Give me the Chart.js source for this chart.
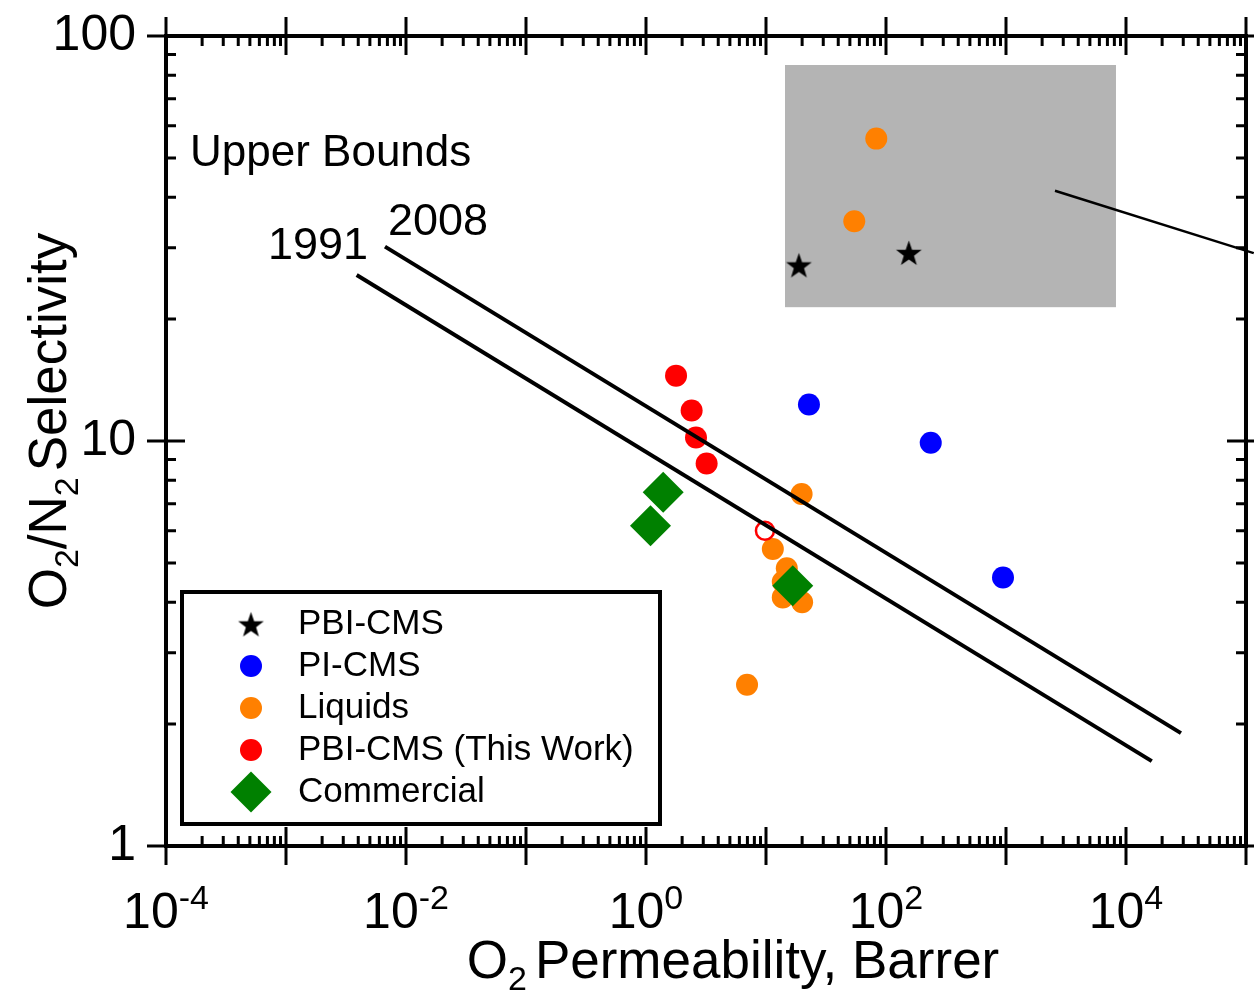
<!DOCTYPE html>
<html>
<head>
<meta charset="utf-8">
<script src="https://cdn.jsdelivr.net/npm/chart.js@4.4.1/dist/chart.umd.min.js"></script>
<style>
  html, body { margin: 0; padding: 0; background: #fff; }
  canvas { display: block; }
</style>
</head>
<body>
<canvas id="chart" width="1254" height="993" style="width:1254px;height:993px"></canvas>
<script>
/* ---- DATA ---- */
const pbiCmsX = [18.8, 155];
const pbiCmsY = [27.2, 29.2];

const piCmsX = [22.8, 236, 944];
const piCmsY = [12.3, 9.9, 4.6];

const liquidsX = [83, 54.4, 19.8, 11.4, 14.9, 13.8, 13.8, 20.0, 6.95];
const liquidsY = [55.8, 34.9, 7.4, 5.41, 4.85, 4.49, 4.11, 4.0, 2.5];

const thisWorkX = [1.78, 2.40, 2.61, 3.20];
const thisWorkY = [14.5, 11.9, 10.2, 8.8];

const thisWorkOpenX = [9.8];
const thisWorkOpenY = [6.0];

const commercialX = [1.39, 1.09, 16.7];
const commercialY = [7.47, 6.18, 4.39];

const bound1991X = [0.00388, 16400];
const bound1991Y = [25.7, 1.62];
const bound2008X = [0.00668, 28700];
const bound2008Y = [30.2, 1.90];

const calloutX = [2560, 116000];
const calloutY = [41.5, 29.1];

const regionX = [14.4, 8250];
const regionY = [21.4, 84.8];

const xTickExponents = [-4, -2, 0, 2, 4];
const yTickValues = [1, 10, 100];
const yTickLabels = ['1', '10', '100'];

/* ---- HELPERS ---- */
const FONT = '"Liberation Sans", Arial, Helvetica, sans-serif';
const f = size => `${size}px ${FONT}`;

function toPoints(xs, ys) {
    return xs.map((x, i) => ({ x: x, y: ys[i] }));
}

function makeStar(outer, inner, color) {
    const size = Math.ceil(outer * 2 + 4);
    const c = document.createElement('canvas');
    c.width = c.height = size;
    const g = c.getContext('2d');
    g.fillStyle = color;
    g.beginPath();
    for (let i = 0; i < 10; i++) {
        const r = i % 2 ? inner : outer;
        const a = -Math.PI / 2 + i * Math.PI / 5;
        const px = size / 2 + r * Math.cos(a);
        const py = size / 2 + 1.5 + r * Math.sin(a);
        if (i) g.lineTo(px, py); else g.moveTo(px, py);
    }
    g.closePath();
    g.fill();
    return c;
}

const starImg = makeStar(13.5, 5.4, '#000000');

// text made of runs (for sub/superscripts)
function drawRich(ctx, parts, x, y, align) {
    let total = 0;
    parts.forEach(p => {
        ctx.font = p.font;
        p.w = ctx.measureText(p.text).width;
        total += p.w + (p.gap || 0);
    });
    let cx = align === 'center' ? x - total / 2 : align === 'right' ? x - total : x;
    ctx.textAlign = 'left';
    parts.forEach(p => {
        ctx.font = p.font;
        ctx.fillText(p.text, cx, y + (p.dy || 0));
        cx += p.w + (p.gap || 0);
    });
}

/* ---- DATASETS ---- */
const datasets = [
    {
        label: '1991', data: toPoints(bound1991X, bound1991Y), showLine: true,
        borderColor: '#000', borderWidth: 4, pointRadius: 0, order: 0, legend: false
    },
    {
        label: '2008', data: toPoints(bound2008X, bound2008Y), showLine: true,
        borderColor: '#000', borderWidth: 4, pointRadius: 0, order: 0, legend: false
    },
    {
        label: 'callout', data: toPoints(calloutX, calloutY), showLine: true, clip: false,
        borderColor: '#000', borderWidth: 2.5, pointRadius: 0, order: 0, legend: false
    },
    {
        label: 'PBI-CMS', data: toPoints(pbiCmsX, pbiCmsY),
        pointStyle: starImg, pointRadius: 13, backgroundColor: '#000', order: 3
    },
    {
        label: 'PI-CMS', data: toPoints(piCmsX, piCmsY),
        pointStyle: 'circle', pointRadius: 11, borderWidth: 0, backgroundColor: '#0000FF', order: 3
    },
    {
        label: 'Liquids', data: toPoints(liquidsX, liquidsY),
        pointStyle: 'circle', pointRadius: 11, borderWidth: 0, backgroundColor: '#FF8000', order: 3
    },
    {
        label: 'PBI-CMS (This Work)', data: toPoints(thisWorkX, thisWorkY),
        pointStyle: 'circle', pointRadius: 11, borderWidth: 0, backgroundColor: '#FF0000', order: 2
    },
    {
        label: 'open', data: toPoints(thisWorkOpenX, thisWorkOpenY),
        pointStyle: 'circle', pointRadius: 9, borderWidth: 2.5, borderColor: '#FF0000',
        backgroundColor: 'rgba(255,255,255,0)', order: 2, legend: false
    },
    {
        label: 'Commercial', data: toPoints(commercialX, commercialY),
        pointStyle: 'rectRot', pointRadius: 20.5, borderWidth: 0, backgroundColor: '#008000', order: 1
    }
];

/* ---- FRAME / TEXT PLUGIN ---- */
const framePlugin = {
    id: 'frame',
    beforeDraw(chart) {
        const ctx = chart.ctx;
        ctx.save();
        ctx.fillStyle = '#fff';
        ctx.fillRect(0, 0, chart.width, chart.height);
        ctx.restore();
    },
    beforeDatasetsDraw(chart) {
        const ctx = chart.ctx;
        const xs = chart.scales.x, ys = chart.scales.y;
        const x1 = xs.getPixelForValue(regionX[0]), x2 = xs.getPixelForValue(regionX[1]);
        const y1 = ys.getPixelForValue(regionY[1]), y2 = ys.getPixelForValue(regionY[0]);
        ctx.save();
        ctx.fillStyle = '#B4B4B4';
        ctx.fillRect(x1, y1, x2 - x1, y2 - y1);
        ctx.restore();
    },
    afterDatasetsDraw(chart) {
        const ctx = chart.ctx;
        const a = chart.chartArea;
        const xs = chart.scales.x, ys = chart.scales.y;
        ctx.save();
        ctx.strokeStyle = '#000';
        ctx.fillStyle = '#000';

        // frame
        ctx.lineWidth = 4;
        ctx.strokeRect(a.left, a.top, a.right - a.left, a.bottom - a.top);

        // ticks
        ctx.lineWidth = 3;
        const MAJ = 19, MIN = 10;
        ctx.beginPath();
        for (let e = -4; e <= 5; e++) {
            const px = xs.getPixelForValue(Math.pow(10, e));
            ctx.moveTo(px, a.bottom - MAJ); ctx.lineTo(px, a.bottom + MAJ);
            ctx.moveTo(px, a.top - MAJ); ctx.lineTo(px, a.top + MAJ);
            if (e < 5) {
                for (let m = 2; m <= 9; m++) {
                    const mx = xs.getPixelForValue(m * Math.pow(10, e));
                    ctx.moveTo(mx, a.bottom); ctx.lineTo(mx, a.bottom - MIN);
                    ctx.moveTo(mx, a.top); ctx.lineTo(mx, a.top + MIN);
                }
            }
        }
        for (let e = 0; e <= 2; e++) {
            const py = ys.getPixelForValue(Math.pow(10, e));
            ctx.moveTo(a.left - MAJ, py); ctx.lineTo(a.left + MAJ, py);
            ctx.moveTo(a.right - MAJ, py); ctx.lineTo(a.right + MAJ, py);
            if (e < 2) {
                for (let m = 2; m <= 9; m++) {
                    const my = ys.getPixelForValue(m * Math.pow(10, e));
                    ctx.moveTo(a.left, my); ctx.lineTo(a.left + MIN, my);
                    ctx.moveTo(a.right, my); ctx.lineTo(a.right - MIN, my);
                }
            }
        }
        ctx.stroke();

        // tick labels
        ctx.textBaseline = 'alphabetic';
        xTickExponents.forEach(e => {
            const px = xs.getPixelForValue(Math.pow(10, e));
            drawRich(ctx, [
                { text: '10', font: f(50) },
                { text: String(e), font: f(34), dy: -19 }
            ], px, 928, 'center');
        });
        ctx.textBaseline = 'middle';
        ctx.textAlign = 'right';
        ctx.font = f(50);
        yTickValues.forEach((v, i) => {
            ctx.fillText(yTickLabels[i], 136, ys.getPixelForValue(v));
        });

        // axis titles
        ctx.textBaseline = 'alphabetic';
        drawRich(ctx, [
            { text: 'O', font: f(53) },
            { text: '2', font: f(34), dy: 12, gap: 8 },
            { text: 'Permeability, Barrer', font: f(53) }
        ], 733, 978, 'center');

        ctx.save();
        ctx.translate(66, 421);
        ctx.rotate(-Math.PI / 2);
        drawRich(ctx, [
            { text: 'O', font: f(53) },
            { text: '2', font: f(34), dy: 12 },
            { text: '/N', font: f(53) },
            { text: '2', font: f(34), dy: 12, gap: 6 },
            { text: 'Selectivity', font: f(53) }
        ], 0, 0, 'center');
        ctx.restore();

        // annotations
        ctx.textAlign = 'left';
        ctx.font = f(44);
        ctx.fillText('Upper Bounds', 190, 166);
        ctx.font = f(45);
        ctx.fillText('2008', 388, 235);
        ctx.fillText('1991', 268, 259);

        // legend
        const lx = 182, ly = 592, lw = 478, lh = 232;
        ctx.fillStyle = '#fff';
        ctx.fillRect(lx, ly, lw, lh);
        ctx.lineWidth = 4;
        ctx.strokeRect(lx, ly, lw, lh);
        const items = chart.data.datasets.filter(d => d.legend !== false);
        ctx.font = f(35);
        ctx.textBaseline = 'middle';
        items.forEach((d, i) => {
            const cy = 624 + i * 42;
            const cx = 251;
            ctx.fillStyle = d.backgroundColor;
            if (d.pointStyle === 'circle') {
                ctx.beginPath();
                ctx.arc(cx, cy, 11, 0, Math.PI * 2);
                ctx.fill();
            } else if (d.pointStyle === 'rectRot') {
                const r = 20.5;
                ctx.beginPath();
                ctx.moveTo(cx - r, cy); ctx.lineTo(cx, cy - r);
                ctx.lineTo(cx + r, cy); ctx.lineTo(cx, cy + r);
                ctx.closePath();
                ctx.fill();
            } else {
                const img = d.pointStyle;
                ctx.drawImage(img, cx - img.width / 2, cy - img.height / 2);
            }
            ctx.fillStyle = '#000';
            ctx.fillText(d.label, 298, cy);
        });
        ctx.restore();
    }
};

/* ---- CHART ---- */
new Chart(document.getElementById('chart'), {
    type: 'scatter',
    data: { datasets: datasets },
    options: {
        responsive: false,
        animation: false,
        layout: { autoPadding: false, padding: { left: 166, right: 8, top: 36, bottom: 147 } },
        scales: {
            x: { type: 'logarithmic', min: 1e-4, max: 1e5, display: false },
            y: { type: 'logarithmic', min: 1, max: 100, display: false }
        },
        plugins: {
            legend: { display: false },
            tooltip: { enabled: false }
        }
    },
    plugins: [framePlugin]
});
</script>
</body>
</html>
